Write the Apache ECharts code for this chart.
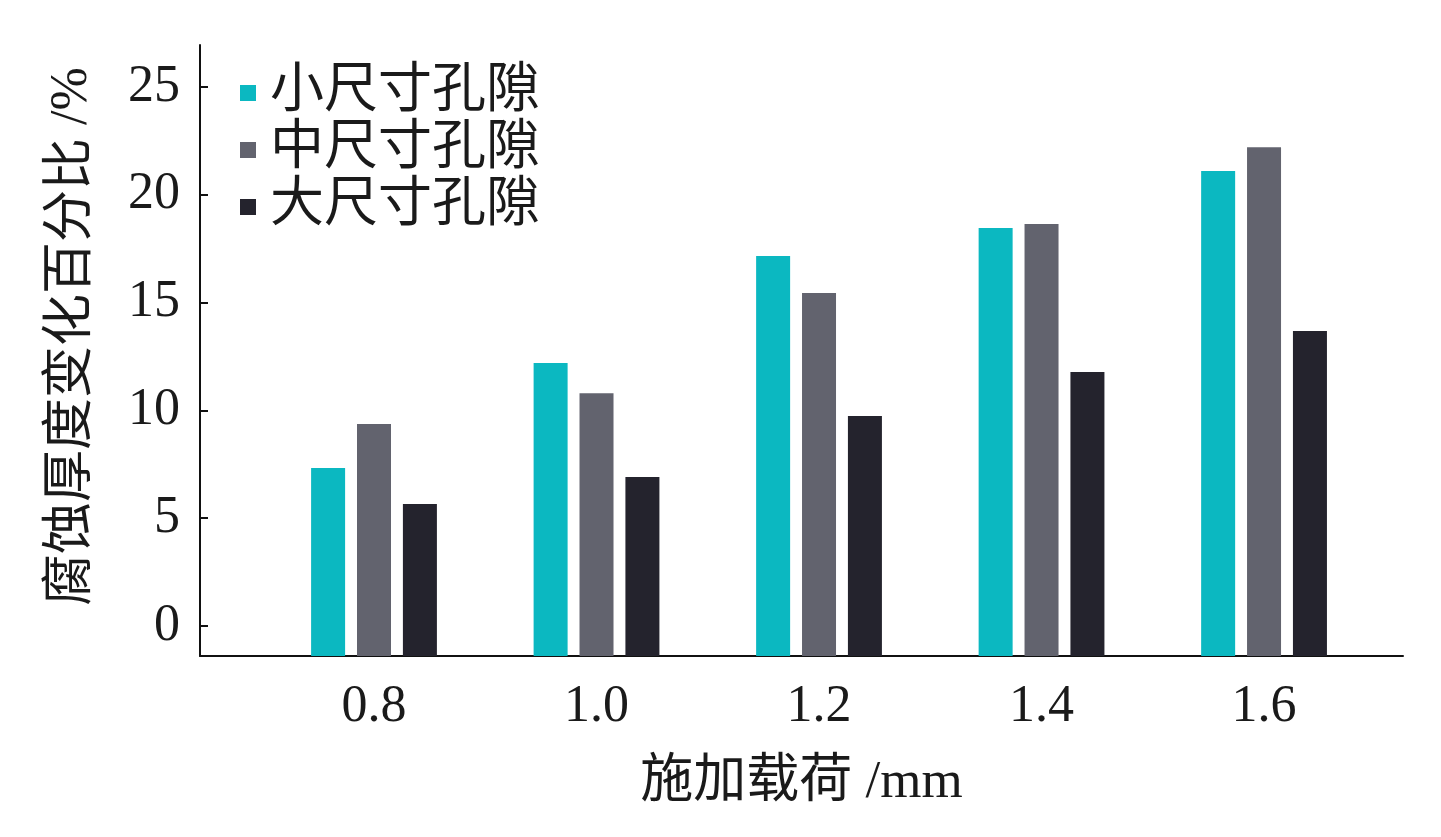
<!DOCTYPE html>
<html>
<head>
<meta charset="utf-8">
<script src="https://cdn.jsdelivr.net/npm/echarts@6/dist/echarts.min.js"></script>
<style>html,body{margin:0;padding:0;background:#fff;}#c{width:1441px;height:837px;}</style>
</head>
<body>
<div id="c"></div>
<script>
const loads = [0.8, 1.0, 1.2, 1.4, 1.6];
const loadLabels = ['0.8', '1.0', '1.2', '1.4', '1.6'];
const seriesNames = ['小尺寸孔隙', '中尺寸孔隙', '大尺寸孔隙'];
const smallPores = [7.33, 12.2, 17.16, 18.46, 21.1];
const mediumPores = [9.37, 10.8, 15.45, 18.65, 22.2];
const largePores = [5.66, 6.91, 9.74, 11.78, 13.68];
const yTicks = [0, 5, 10, 15, 20, 25];

const colors = ['#0BB8C1', '#62636E', '#24232D'];
const font = "'Liberation Serif', 'Noto Sans CJK SC', serif";
const txt = '#1a1a1a';
const yMin = -1.391, yMax = 26.948;

const values = [smallPores, mediumPores, largePores];
const series = [];
seriesNames.forEach((n, s) => {
  // visible bar from 0 up to the value
  series.push({
    name: n, type: 'bar', stack: 'g' + s, barWidth: 34, barGap: '35%',
    itemStyle: {color: colors[s], borderWidth: 0},
    data: loads.map((x, i) => [x, values[s][i]])
  });
  // the same bar continued below 0 down to the axis line (as in the original figure)
  series.push({
    name: n, type: 'bar', stack: 'g' + s, barWidth: 34, barGap: '35%',
    itemStyle: {color: colors[s], borderWidth: 0},
    data: loads.map(x => [x, yMin])
  });
});

const chart = echarts.init(document.getElementById('c'), null, {renderer: 'canvas'});
chart.setOption({
  animation: false,
  backgroundColor: '#ffffff',
  grid: {left: 200, right: 38, top: 45, bottom: 181},
  legend: {
    orient: 'vertical', left: 240, top: 66, padding: 0,
    itemWidth: 16, itemHeight: 16, itemGap: 3,
    icon: 'rect',
    textStyle: {fontFamily: font, fontSize: 54, color: txt, padding: [0, 0, 0, 9]},
    data: seriesNames
  },
  xAxis: {
    type: 'value',
    min: 0.6436, max: 1.7249,
    name: '施加载荷 /mm', nameLocation: 'middle', nameGap: 101,
    nameTextStyle: {fontFamily: font, fontSize: 53, color: txt},
    axisLine: {show: true, onZero: false, lineStyle: {color: '#111', width: 2}},
    axisTick: {show: false},
    splitLine: {show: false},
    axisLabel: {
      customValues: loads, margin: 25,
      fontFamily: font, fontSize: 52, color: txt,
      formatter: v => { const i = loads.findIndex(x => Math.abs(x - v) < 1e-6); return i >= 0 ? loadLabels[i] : ''; }
    }
  },
  yAxis: {
    type: 'value',
    min: yMin, max: yMax,
    name: '腐蚀厚度变化百分比 /%', nameLocation: 'middle', nameGap: 102,
    nameTextStyle: {fontFamily: font, fontSize: 52, color: txt, padding: [0, 0, 0, 28]},
    axisLine: {show: true, onZero: false, lineStyle: {color: '#111', width: 2}},
    axisTick: {show: true, inside: true, length: 8, lineStyle: {color: '#111', width: 2}, customValues: yTicks},
    splitLine: {show: false},
    axisLabel: {customValues: yTicks, margin: 20, fontFamily: font, fontSize: 52, color: txt}
  },
  series: series
});
</script>
</body>
</html>
